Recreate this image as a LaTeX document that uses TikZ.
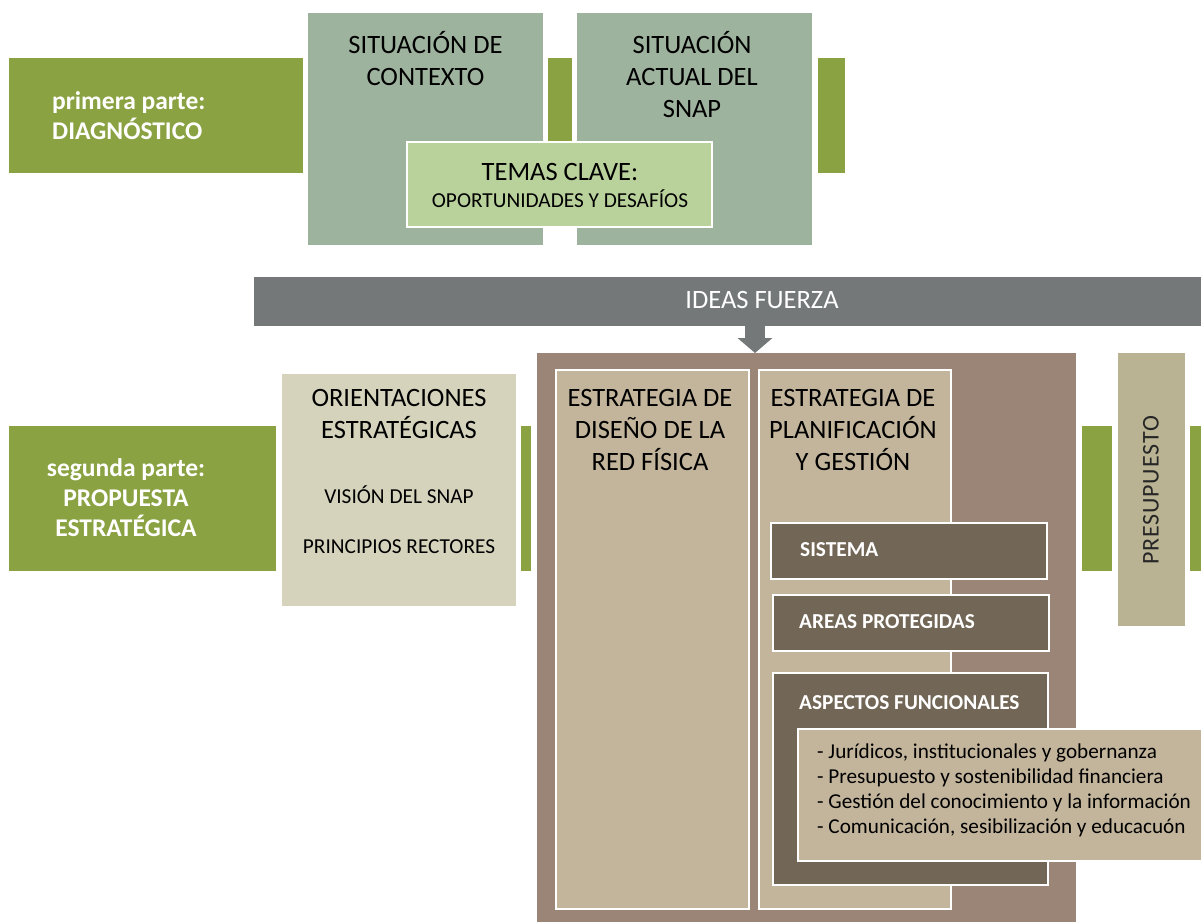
\documentclass[tikz,border=0pt]{standalone}
\usepackage{fontspec}
\setmainfont{Carlito}
\usetikzlibrary{arrows.meta}
\definecolor{cGreen}{HTML}{8AA242}
\definecolor{cSage}{HTML}{9EB39E}
\definecolor{cTemas}{HTML}{B9D19B}
\definecolor{cGray}{HTML}{747878}
\definecolor{cBrown}{HTML}{9B8577}
\definecolor{cTan}{HTML}{C3B59C}
\definecolor{cDark}{HTML}{726656}
\definecolor{cOrient}{HTML}{D5D3BC}
\definecolor{cPresup}{HTML}{B9B393}
\tikzset{
  panel/.style={fill=#1, draw=none, inner sep=0pt, outer sep=0pt},
  wpanel/.style={fill=#1, draw=white, line width=2.5pt, inner sep=0pt, outer sep=0pt},
  ttl/.style={font=\fontsize{26.5}{32}\selectfont, align=center, inner sep=0pt, anchor=north, text=black},
  sml/.style={font=\fontsize{21.3}{24}\selectfont, inner sep=0pt, text=black},
  bw/.style={font=\fontsize{25.5}{30}\selectfont\bfseries, text=white, inner sep=0pt},
  bsm/.style={font=\fontsize{21.3}{24}\selectfont\bfseries, text=white, inner sep=0pt, anchor=west},
}
\newcommand{\boxat}[6]{% name, style, x1, y1, x2, y2
  \path (#3,#4) coordinate (#1-nw) (#5,#6) coordinate (#1-se);
  \node[#2, minimum width={#5-#3}, minimum height={#6-#4}, anchor=north west] (#1) at (#3,#4) {};}
\begin{document}
\begin{tikzpicture}[x=1pt,y=-1pt]
\useasboundingbox (0,0) rectangle (1201,922);
% ---------- first part ----------
\boxat{g1}{panel=cGreen}{9}{58}{303}{173}
\boxat{gb1}{panel=cGreen}{548}{58}{572}{173}
\boxat{gb2}{panel=cGreen}{818}{58}{845}{173}
\boxat{ctx}{panel=cSage}{308}{13}{543}{245}
\boxat{act}{panel=cSage}{577}{13}{812}{245}
\boxat{tem}{wpanel=cTemas}{407}{142}{712}{227}
\node[bw, anchor=north west, align=left] (t1) at (52,91) {primera parte:\\DIAGNÓSTICO};
\node[ttl] (tctx) at (425.5,31) {SITUACIÓN DE\\CONTEXTO};
\node[ttl] (tact) at (692,31) {SITUACIÓN\\ACTUAL DEL\\SNAP};
\node[ttl, anchor=center] (ttem) at (560,172) {TEMAS CLAVE:};
\node[sml] (ttem2) at (560,199) {OPORTUNIDADES Y DESAFÍOS};
% ---------- ideas fuerza ----------
\boxat{ideas}{panel=cGray}{254}{277}{1201}{326}
\node[font=\fontsize{26.5}{30}\selectfont, text=white, inner sep=0pt] (tideas) at (762,300) {IDEAS FUERZA};
% ---------- second part ----------
\boxat{g2}{panel=cGreen}{9}{426}{276}{571}
\boxat{gb3}{panel=cGreen}{521}{426}{531}{571}
\boxat{gb4}{panel=cGreen}{1082}{426}{1112}{571}
\boxat{gb5}{panel=cGreen}{1190}{426}{1201}{571}
\boxat{ori}{panel=cOrient}{282}{374}{516}{606}
\boxat{big}{panel=cBrown}{537}{353}{1076}{922}
\boxat{pre}{panel=cPresup}{1118}{353}{1185}{626}
\draw[cGray, line width=20pt, -{Triangle[width=34pt,length=15pt]}] (ideas.south -| 755,0) -- (big.north -| 755,0);
\node[bw, align=center] (t2) at (126,498) {segunda parte:\\PROPUESTA\\ESTRATÉGICA};
\node[ttl] (tori) at (399,389) {ORIENTACIONES\\ESTRATÉGICAS};
\node[sml] (tvis) at (399,495) {VISIÓN DEL SNAP};
\node[sml] (tpri) at (399,547) {PRINCIPIOS RECTORES};
\node[font=\fontsize{24}{30}\selectfont, inner sep=0pt, rotate=90, text=black!85] (tpre) at (1151,490) {P\kern0.8pt R\kern0.8pt E\kern0.8pt S\kern0.8pt U\kern0.8pt P\kern0.8pt U\kern0.8pt E\kern0.8pt S\kern0.8pt T\kern0.8pt O};
% inner columns
\boxat{red}{wpanel=cTan}{556}{370}{749}{909}
\boxat{pla}{wpanel=cTan}{759}{370}{951}{909}
\node[ttl] (tred) at (650,389) {ESTRATEGIA DE\\DISEÑO DE LA\\RED FÍSICA};
\node[ttl] (tpla) at (853,389) {ESTRATEGIA DE\\PLANIFICACIÓN\\Y GESTIÓN};
\boxat{sis}{wpanel=cDark}{771}{523}{1047}{579}
\boxat{are}{wpanel=cDark}{773}{595}{1049}{651}
\boxat{asp}{wpanel=cDark}{773}{673}{1048}{885}
\node[bsm] (tsis) at (800,550) {SISTEMA};
\node[bsm] (tare) at (799,622) {AREAS PROTEGIDAS};
\node[bsm] (tasp) at (799,703) {ASPECTOS FUNCIONALES};
\boxat{lst}{wpanel=cTan}{798}{729}{1203}{861}
\node[font=\fontsize{21.2}{25}\selectfont, align=left, anchor=north west, inner sep=0pt, text=black] (tlst) at (817,744)
  {- Jurídicos, institucionales y gobernanza\\
   - Presupuesto y sostenibilidad financiera\\
   - Gestión del conocimiento y la información\\
   - Comunicación, sesibilización y educacuón};
\end{tikzpicture}
\end{document}
